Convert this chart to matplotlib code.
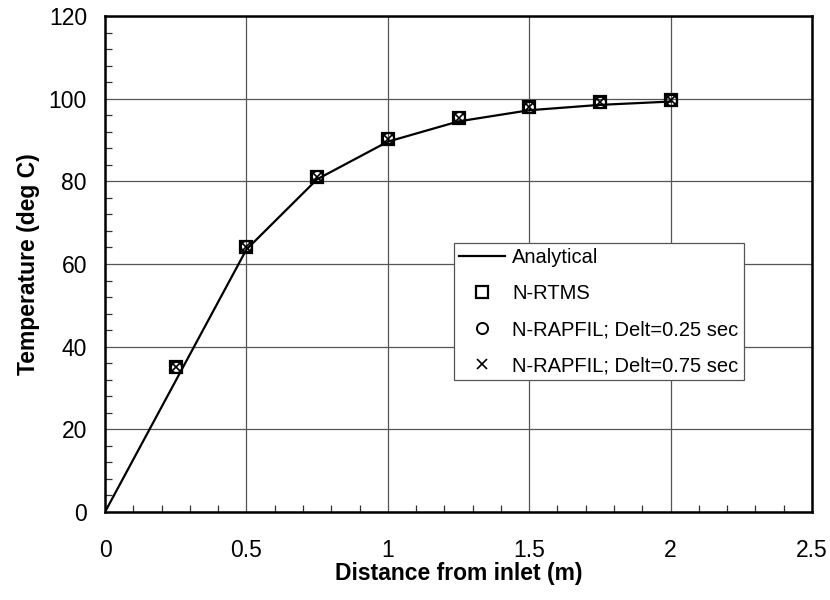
import matplotlib
matplotlib.use("Agg")
import matplotlib.pyplot as plt
from matplotlib.ticker import MultipleLocator

plt.rcParams['font.family'] = ['Liberation Sans', 'DejaVu Sans']

x_analytical = [0.0, 0.5, 0.75, 1.0, 1.25, 1.5, 1.75, 2.0]
y_analytical = [0.0, 63.5, 80.5, 89.6, 94.5, 97.2, 98.5, 99.3]

x_pts = [0.25, 0.5, 0.75, 1.0, 1.25, 1.5, 1.75, 2.0]
y_rtms = [35.0, 64.0, 81.0, 90.3, 95.4, 98.0, 99.1, 99.6]
y_rapfil_025 = [35.0, 64.3, 81.3, 90.5, 95.6, 98.0, 99.1, 99.6]
y_rapfil_075 = [35.0, 64.0, 81.0, 90.3, 95.4, 98.0, 99.1, 99.6]

fig = plt.figure(figsize=(8.3, 6.0), dpi=100)
ax = fig.add_axes([105/830, 1-512/600, (812-105)/830, (512-16)/600])

ax.plot(x_analytical, y_analytical, color='black', lw=1.6, label='Analytical', zorder=3)
ax.plot(x_pts, y_rtms, ls='none', marker='s', ms=9, mfc='none', mec='black', mew=1.6,
        label='N-RTMS', zorder=4)
ax.plot(x_pts, y_rapfil_025, ls='none', marker='o', ms=8, mfc='none', mec='black', mew=1.4,
        label='N-RAPFIL; Delt=0.25 sec', zorder=4)
ax.plot(x_pts, y_rapfil_075, ls='none', marker='x', ms=7, mfc='none', mec='black', mew=1.2,
        label='N-RAPFIL; Delt=0.75 sec', zorder=4)

ax.set_xlim(0, 2.5)
ax.set_ylim(0, 120)
ax.xaxis.set_major_locator(MultipleLocator(0.5))
ax.xaxis.set_minor_locator(MultipleLocator(0.1))
ax.yaxis.set_major_locator(MultipleLocator(20))
ax.yaxis.set_minor_locator(MultipleLocator(4))
ax.set_xticks([0, 0.5, 1, 1.5, 2, 2.5])
ax.set_xticklabels(['0', '0.5', '1', '1.5', '2', '2.5'])

ax.grid(True, which='major', color='#555555', lw=0.9)
ax.tick_params(which='major', length=0, labelsize=16.5)
ax.tick_params(axis='x', which='major', pad=19.5)
ax.tick_params(axis='y', which='major', pad=13)
ax.tick_params(which='minor', direction='in', length=5, width=0.9, color='#333333')
for s in ax.spines.values():
    s.set_linewidth(1.8)
    s.set_color('black')

ax.set_xlabel('Distance from inlet (m)', fontsize=16.5, fontweight='bold', labelpad=0)
ax.set_ylabel('Temperature (deg C)', fontsize=16.5, fontweight='bold', labelpad=6)

leg = ax.legend(loc='upper left', bbox_to_anchor=((454-105)/707, 1-(243-16)/496),
                fontsize=14.5, frameon=True, fancybox=False, framealpha=1,
                edgecolor='#555555', borderpad=0.25, labelspacing=0.85,
                handlelength=2.3, handletextpad=0.35, borderaxespad=0)
leg.get_frame().set_linewidth(0.9)
leg.set_zorder(5)

fig.savefig('out.png', dpi=100)
